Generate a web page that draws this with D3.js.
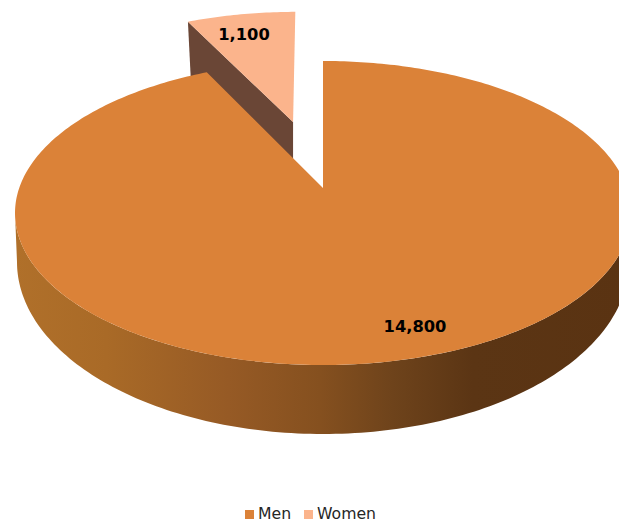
<!DOCTYPE html>
<html><head><meta charset="utf-8">
<script src="https://cdnjs.cloudflare.com/ajax/libs/d3/7.8.5/d3.min.js"></script>
<style>html,body{margin:0;padding:0;background:#fff}svg{display:block}text{font-family:"DejaVu Sans",sans-serif}</style>
</head><body><svg id="c" width="619" height="523"></svg>
<script>
const categories = ["Men", "Women"];
const values = [14800, 1100];
const labels = ["14,800", "1,100"];
const colors = ["#DB8238", "#FBB48C"];

const svg = d3.select("#c");
const color = d3.scaleOrdinal().domain(categories).range(colors);
const pieData = d3.pie().sort(null).startAngle(0).endAngle(2*Math.PI)(values);
const men = pieData[0], women = pieData[1];

// perspective projection of the pie disc (u right, v toward the viewer)
function projector(p){
  return (u,v)=>{const d=1-p.a*v; return [p.cx+p.R*u/d, p.cy+p.B*v/d];};
}
const a=50/304;
const topP = projector({a, cx:323, cy:188, R:303.8, B:147.9});
const baseP = projector({a, cx:323, cy:262-172*a, R:306*Math.sqrt(1-a*a), B:172*(1-a*a)});
const polar=(t,r=1,ou=0,ov=0)=>[ou+r*Math.sin(t), ov-r*Math.cos(t)];
const line=d3.line();
const arcAngles=(s,e,n=160)=>d3.range(n+1).map(i=>s+(e-s)*i/n);
const seamTweak=0.02;   // small optical correction of the slice seam

// men side wall
const t0=Math.acos(-a), t1=2*Math.PI-t0;
const front=arcAngles(t0,t1);
const wall=front.map(t=>topP(...polar(t))).concat(front.slice().reverse().map(t=>baseP(...polar(t))));
const defs=svg.append("defs");
const g=defs.append("linearGradient").attr("id","wallGrad").attr("gradientUnits","userSpaceOnUse")
  .attr("x1",15).attr("x2",625).attr("y1",0).attr("y2",0);
[[0,"#B0702A"],[0.15,"#A96A27"],[0.35,"#965A25"],[0.5,"#85501F"],[0.62,"#6E431B"],[0.75,"#5B3514"],[1,"#5A3312"]]
 .forEach(d=>g.append("stop").attr("offset",d[0]).attr("stop-color",d[1]));

// women exploded wedge
const mid=(women.startAngle+women.endAngle)/2, ex=0.493;
const ou=ex*Math.sin(mid), ov=-ex*Math.cos(mid);
const wp=(u,v)=>topP(u,v);
const apexW=wp(ou,ov), cornerW=wp(...polar(women.startAngle-seamTweak,1,ou,ov));
svg.append("path").attr("d",line([apexW,cornerW,[cornerW[0]+3,cornerW[1]+60],[apexW[0],apexW[1]+40]])+"Z").attr("fill","#6A4636");
const wPts=[apexW].concat(arcAngles(women.startAngle-seamTweak,women.endAngle-seamTweak*0.35,30).map(t=>wp(...polar(t,1,ou,ov))));
svg.append("path").attr("d",line(wPts)+"Z").attr("fill",color("Women"));

svg.append("path").attr("d",line(wall)+"Z").attr("fill","url(#wallGrad)");
const mPts=[topP(0,0)].concat(arcAngles(men.startAngle,men.endAngle-seamTweak,360).map(t=>topP(...polar(t))));
svg.append("path").attr("d",line(mPts)+"Z").attr("fill",color("Men"));

// data labels
const labelPos=[[415,326],[244,34]];
svg.selectAll("text.lab").data(labels).join("text").attr("class","lab")
  .attr("x",(d,i)=>labelPos[i][0]).attr("y",(d,i)=>labelPos[i][1]).attr("dy","0.36em")
  .attr("text-anchor","middle").attr("font-weight","bold").attr("font-size",16.3).attr("fill","#000").text(d=>d);

// legend
const legX=[245,304];
categories.forEach((c,i)=>{
  svg.append("rect").attr("x",legX[i]).attr("y",510).attr("width",9).attr("height",9).attr("fill",color(c));
  svg.append("text").attr("x",legX[i]+13).attr("y",519).attr("font-size",15.7).attr("fill","#262626").text(c);
});
</script></body></html>
